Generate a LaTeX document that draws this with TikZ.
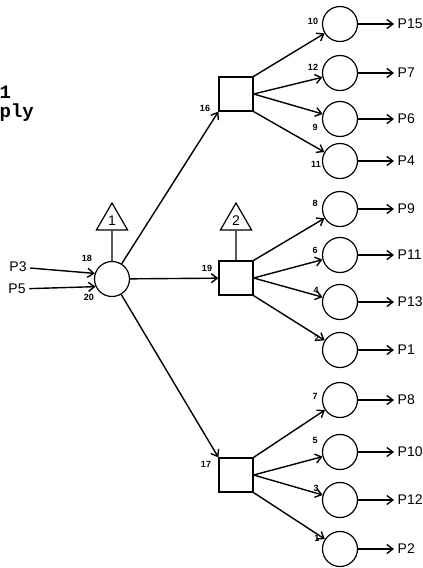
\documentclass[tikz,border=0pt]{standalone}
\usepackage{fontspec}
\setmainfont{Liberation Sans}
\newfontfamily\typefont{Liberation Mono}
\usetikzlibrary{calc}
\usetikzlibrary{shapes.geometric}
\usetikzlibrary{arrows.meta}

\begin{document}
\begin{tikzpicture}[x=1pt,y=-1pt,inner sep=0pt,line width=1.4pt,
  >={Straight Barb[length=6pt,width=9pt]},
  unit/.style={circle,draw,line width=1.2pt,minimum size=35pt},
  split/.style={rectangle,draw,line width=1.2pt,minimum size=34pt},
  tri/.style={regular polygon,regular polygon sides=3,draw,line width=1.2pt,
    minimum size=36pt,font=\fontsize{14}{14}\selectfont},
  num/.style={font=\bfseries\fontsize{9}{9}\selectfont},
  port/.style={font=\fontsize{14}{14}\selectfont,inner xsep=3pt}]
\useasboundingbox (0,0) rectangle (423,568);
\def\cx{340}
\node (hd1) [anchor=base west] at (-1, 98) {\typefont\bfseries\fontsize{19}{19}\selectfont 1};
\node (hd2) [anchor=base west] at (-1, 117) {\typefont\bfseries\fontsize{19}{19}\selectfont ply};

% supply side
\node (s) [unit] at (112, 279) {};
\node (t1) [tri] at (112, 221) {1};
\node (p3) [port] at (18, 267) {P3};
\node (p5) [port] at (17, 289) {P5};
\node (n18) [num] at (87, 258) {18};
\node (n20) [num] at (89, 297) {20};

% splitters
\node (b16) [split] at (236, 94) {} node (n16) [num] at ($(b16) + (-31, 14)$) {16};
\node (b19) [split] at (236, 278) {} node (n19) [num] at ($(b19) + (-29, -10)$) {19};
\node (b17) [split] at (236, 475) {} node (n17) [num] at ($(b17) + (-30, -11)$) {17};
\node (t2) [tri] at (236, 221) {2};

% loads
\node (c10) [unit] at (\cx, 24) {} node (n10) [num] at ($(c10) + (-27, -3)$) {10};
\node (c12) [unit] at (\cx, 73) {} node (n12) [num] at ($(c12) + (-27, -6)$) {12};
\node (c9) [unit] at (\cx, 119) {} node (n9) [num] at ($(c9) + (-25, 8)$) {9};
\node (c11) [unit] at (\cx, 161) {} node (n11) [num] at ($(c11) + (-24, 3)$) {11};
\node (c8) [unit] at (\cx, 209) {} node (n8) [num] at ($(c8) + (-25, -6)$) {8};
\node (c6) [unit] at (\cx, 255) {} node (n6) [num] at ($(c6) + (-25, -5)$) {6};
\node (c4) [unit] at (\cx, 302) {} node (n4) [num] at ($(c4) + (-24, -12)$) {4};
\node (c2) [unit] at (\cx, 350) {} node (n2) [num] at ($(c2) + (-23, -12)$) {2};
\node (c7) [unit] at (\cx, 400) {} node (n7) [num] at ($(c7) + (-25, -4)$) {7};
\node (c5) [unit] at (\cx, 452) {} node (n5) [num] at ($(c5) + (-25, -12)$) {5};
\node (c3) [unit] at (\cx, 500) {} node (n3) [num] at ($(c3) + (-24, -12)$) {3};
\node (c1) [unit] at (\cx, 549) {} node (n1) [num] at ($(c1) + (-23, -11)$) {1};

\node (q15) [port,anchor=west] at (394, 24) {P15};
\node (q7) [port,anchor=west] at (394, 73) {P7};
\node (q6) [port,anchor=west] at (394, 119) {P6};
\node (q4) [port,anchor=west] at (394, 161) {P4};
\node (q9) [port,anchor=west] at (394, 209) {P9};
\node (q11) [port,anchor=west] at (394, 255) {P11};
\node (q13) [port,anchor=west] at (394, 302) {P13};
\node (q1) [port,anchor=west] at (394, 350) {P1};
\node (q8) [port,anchor=west] at (394, 400) {P8};
\node (q10) [port,anchor=west] at (394, 452) {P10};
\node (q12) [port,anchor=west] at (394, 500) {P12};
\node (q2) [port,anchor=west] at (394, 549) {P2};

\draw[->] (p3) -- (s.162);
\draw[->] (p5) -- (s.205);
\draw[line width=1.2pt] (t1) -- (s);
\draw[line width=1.2pt] (t2) -- (b19);
\draw[->] (s) -- (b16.south west);
\draw[->] (s) -- (b19);
\draw[->] (s) -- (b17.north west);

\draw[->] (b16.north east) -- (c10);
\draw[->] (b16.east) -- (c12);
\draw[->] (b16.east) -- (c9);
\draw[->] (b16.south east) -- (c11);
\draw[->] (b19.north east) -- (c8);
\draw[->] (b19.east) -- (c6);
\draw[->] (b19.east) -- (c4);
\draw[->] (b19.south east) -- (c2);
\draw[->] (b17.north east) -- (c7);
\draw[->] (b17.east) -- (c5);
\draw[->] (b17.east) -- (c3);
\draw[->] (b17.south east) -- (c1);

\draw[->] (c10) -- (q15);
\draw[->] (c12) -- (q7);
\draw[->] (c9) -- (q6);
\draw[->] (c11) -- (q4);
\draw[->] (c8) -- (q9);
\draw[->] (c6) -- (q11);
\draw[->] (c4) -- (q13);
\draw[->] (c2) -- (q1);
\draw[->] (c7) -- (q8);
\draw[->] (c5) -- (q10);
\draw[->] (c3) -- (q12);
\draw[->] (c1) -- (q2);
\end{tikzpicture}
\end{document}
